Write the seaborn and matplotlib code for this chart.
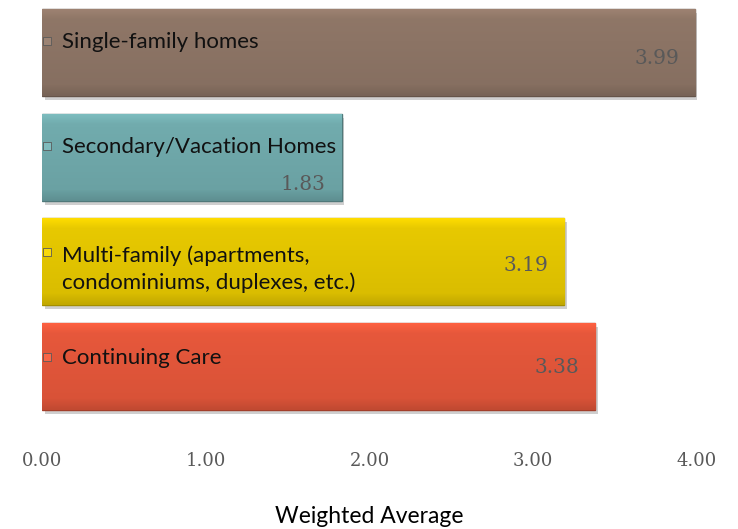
import matplotlib
matplotlib.use("Agg")
import matplotlib.pyplot as plt
import matplotlib.patheffects as pe
import matplotlib.colors as mcolors
import numpy as np
import pandas as pd
import seaborn as sns

categories = ["Single-family homes", "Secondary/Vacation Homes",
              "Multi-family (apartments,\ncondominiums, duplexes, etc.)", "Continuing Care"]
values = [3.99, 1.83, 3.19, 3.38]
colors = ["#8C7465", "#6FA8AA", "#E3C500", "#E2563A"]
tick_values = [0, 1, 2, 3, 4]
tick_labels = ["0.00", "1.00", "2.00", "3.00", "4.00"]
value_labels = ["3.99", "1.83", "3.19", "3.38"]

sns.set_theme(style="white")
plt.rcParams['font.family'] = ['Lato', 'DejaVu Sans']

df = pd.DataFrame({"cat": categories, "val": values})

fig = plt.figure(figsize=(7.38, 5.29), dpi=100)
ax = fig.add_axes([42/738, 1 - 445/529, 655/738, 445/529])

sns.barplot(data=df, x="val", y="cat", hue="cat", palette=colors, legend=False,
            width=0.83, ax=ax, orient="h", saturation=1)

for patch, col in zip(ax.patches, colors):
    rgb = np.array(mcolors.to_rgb(col))
    dark = rgb * 0.72
    patch.set_edgecolor(dark)
    patch.set_linewidth(1.0)
    patch.set_path_effects([pe.SimplePatchShadow(offset=(2, -3), shadow_rgbFace="#888888", alpha=0.4),
                            pe.Normal()])
    x0, y0 = patch.get_x(), patch.get_y()
    w, h = patch.get_width(), patch.get_height()
    n = 64
    t = np.linspace(0, 1, n)
    f = np.where(t < 0.12, 1.12 - t * 0.9, np.where(t > 0.88, 0.95 - (t - 0.88) * 0.8, 1.02 - (t - 0.12) * 0.08))
    grad = np.clip(rgb[None, :] * f[:, None], 0, 1)
    grad = np.repeat(grad[:, None, :], 2, axis=1)
    im = ax.imshow(grad, extent=(x0, x0 + w, y0 + h, y0), aspect="auto",
                   interpolation="bilinear", zorder=patch.get_zorder() + 0.1)
    im.set_clip_path(patch)

ax.set_xlim(0, 4)
ax.set_ylim(3.75, -0.5)

label_dy = [-0.1, -0.1, 0.07, -0.08]
value_dy = [0.06, 0.26, 0.04, 0.01]
serif = ["DejaVu Serif"]
for i, (cat, v, vl, col) in enumerate(zip(categories, values, value_labels, colors)):
    ax.text(0.12, i + label_dy[i], cat, va="center", ha="left", fontsize=16,
            color="#111111", zorder=5, linespacing=1.35)
    ax.text(v - 0.1, i + value_dy[i], vl, va="center", ha="right", fontsize=14.5,
            family=serif, color="#595959", zorder=5)
    rgb = np.array(mcolors.to_rgb(col))
    my = i + label_dy[i] - 0.01 if i != 2 else i + label_dy[i] - 0.16
    ax.scatter([0.03], [my], marker="s", s=34,
               color=np.clip(rgb * 1.05 + 0.04, 0, 1), edgecolor="#5a5a5a", linewidth=0.6, zorder=6)

ax.set_xticks(tick_values)
ax.set_xticklabels(tick_labels, family=serif, fontsize=13, color="#595959")
ax.tick_params(axis="x", length=0, pad=5)
ax.set_yticks([])
ax.set_ylabel("")
ax.set_xlabel("Weighted Average", fontsize=16.5, color="#000000", labelpad=26)
for s in ax.spines.values():
    s.set_visible(False)
ax.grid(False)

fig.savefig("out.png", dpi=100)
